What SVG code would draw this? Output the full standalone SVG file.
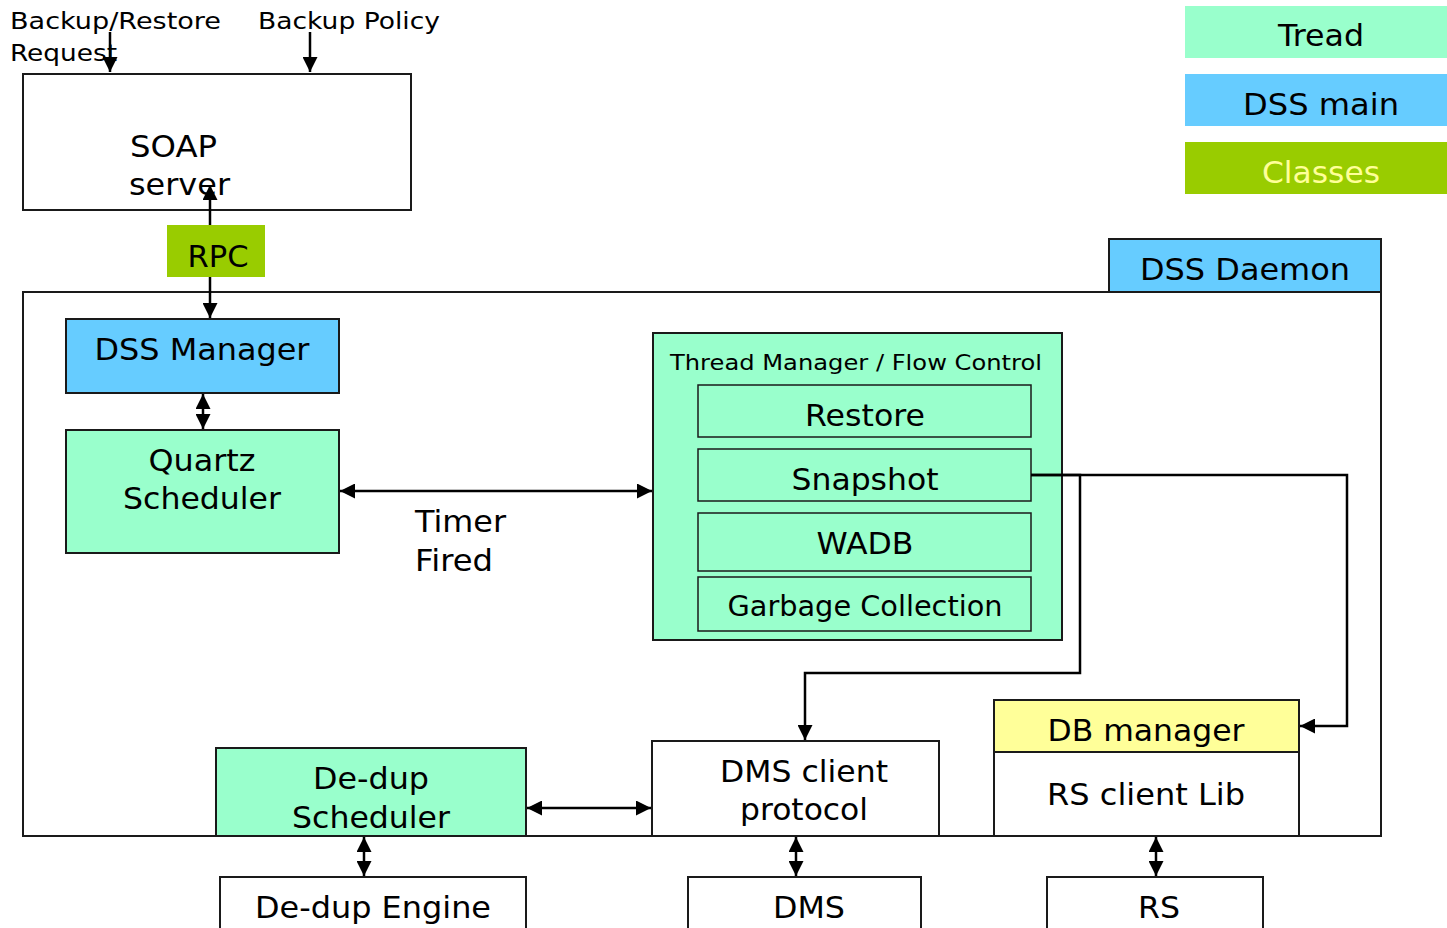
<svg xmlns="http://www.w3.org/2000/svg" width="1447" height="928" viewBox="0 0 1447 928">
  <style>
    text { font-family: "DejaVu Sans", Verdana, sans-serif; fill: #000; }
    .box { stroke: #1a1a1a; stroke-width: 2; }
    .inner { stroke: #1a1a1a; stroke-width: 1.5; }
    .t30 { font-size: 30px; }
    .t23 { font-size: 23px; }
    .t22 { font-size: 22px; }
    .mid { text-anchor: middle; }
    .wire { fill: none; stroke: #000; stroke-width: 2.5; }
  </style>
  <defs>
    <marker id="ah" viewBox="0 0 10 10" refX="10" refY="5" markerWidth="6" markerHeight="6" markerUnits="strokeWidth" orient="auto-start-reverse">
      <path d="M0,0 L10,5 L0,10 z" fill="#000"/>
    </marker>
  </defs>

  <rect width="1447" height="928" fill="#fff"/>

  <!-- legend -->
  <g id="legend-tread">
    <rect x="1185" y="6" width="262" height="52" fill="#99FFCC"/>
    <text class="t30 mid" x="1321" y="46" textLength="86" lengthAdjust="spacingAndGlyphs">Tread</text>
  </g>
  <g id="legend-dss-main">
    <rect x="1185" y="74" width="262" height="52" fill="#66CCFF"/>
    <text class="t30 mid" x="1321" y="115" textLength="156" lengthAdjust="spacingAndGlyphs">DSS main</text>
  </g>
  <g id="legend-classes">
    <rect x="1185" y="142" width="262" height="52" fill="#99CC00"/>
    <text class="t30 mid" x="1321" y="183" textLength="118" lengthAdjust="spacingAndGlyphs" style="fill:#FFFF99">Classes</text>
  </g>

  <!-- inputs -->
  <g id="input-labels">
    <text class="t23" x="10" y="29" textLength="211" lengthAdjust="spacingAndGlyphs">Backup/Restore</text>
    <text class="t23" x="10" y="61" textLength="107" lengthAdjust="spacingAndGlyphs">Request</text>
    <text class="t23" x="258" y="29" textLength="182" lengthAdjust="spacingAndGlyphs">Backup Policy</text>
  </g>

  <g id="soap-server">
    <rect class="box" x="23" y="74" width="388" height="136" fill="#fff"/>
    <text class="t30" x="130" y="157" textLength="87" lengthAdjust="spacingAndGlyphs">SOAP</text>
    <text class="t30" x="129" y="195" textLength="101" lengthAdjust="spacingAndGlyphs">server</text>
  </g>

  <!-- daemon container -->
  <g id="dss-daemon">
    <rect class="box" x="23" y="292" width="1358" height="544" fill="#fff"/>
    <rect class="box" x="1109" y="239" width="272" height="53" fill="#66CCFF"/>
    <text class="t30 mid" x="1245" y="280" textLength="210" lengthAdjust="spacingAndGlyphs">DSS Daemon</text>
  </g>

  <g id="dss-manager">
    <rect class="box" x="66" y="319" width="273" height="74" fill="#66CCFF"/>
    <text class="t30 mid" x="202" y="360" textLength="215" lengthAdjust="spacingAndGlyphs">DSS Manager</text>
  </g>

  <g id="quartz-scheduler">
    <rect class="box" x="66" y="430" width="273" height="123" fill="#99FFCC"/>
    <text class="t30 mid" x="202" y="471" textLength="107" lengthAdjust="spacingAndGlyphs">Quartz</text>
    <text class="t30 mid" x="202" y="509" textLength="158" lengthAdjust="spacingAndGlyphs">Scheduler</text>
  </g>

  <g id="thread-manager">
    <rect class="box" x="653" y="333" width="409" height="307" fill="#99FFCC"/>
    <text class="t22 mid" x="856" y="370" textLength="372" lengthAdjust="spacingAndGlyphs">Thread Manager / Flow Control</text>
    <rect class="inner" x="698" y="385" width="333" height="52" fill="#99FFCC"/>
    <text class="t30 mid" x="865" y="426" textLength="120" lengthAdjust="spacingAndGlyphs">Restore</text>
    <rect class="inner" x="698" y="449" width="333" height="52" fill="#99FFCC"/>
    <text class="t30 mid" x="865" y="490" textLength="147" lengthAdjust="spacingAndGlyphs">Snapshot</text>
    <rect class="inner" x="698" y="513" width="333" height="58" fill="#99FFCC"/>
    <text class="t30 mid" x="865" y="554" textLength="97" lengthAdjust="spacingAndGlyphs">WADB</text>
    <rect class="inner" x="698" y="577" width="333" height="54" fill="#99FFCC"/>
    <text class="t30 mid" x="865" y="616" textLength="275" lengthAdjust="spacingAndGlyphs" style="font-size:28px">Garbage Collection</text>
  </g>

  <g id="timer-label">
    <text class="t30" x="415" y="532" textLength="91" lengthAdjust="spacingAndGlyphs">Timer</text>
    <text class="t30" x="415" y="571" textLength="78" lengthAdjust="spacingAndGlyphs">Fired</text>
  </g>

  <g id="dedup-scheduler">
    <rect class="box" x="216" y="748" width="310" height="88" fill="#99FFCC"/>
    <text class="t30 mid" x="371" y="789" textLength="116" lengthAdjust="spacingAndGlyphs">De-dup</text>
    <text class="t30 mid" x="371" y="828" textLength="158" lengthAdjust="spacingAndGlyphs">Scheduler</text>
  </g>

  <g id="dms-client">
    <rect class="box" x="652" y="741" width="287" height="95" fill="#fff"/>
    <text class="t30 mid" x="804" y="782" textLength="168" lengthAdjust="spacingAndGlyphs">DMS client</text>
    <text class="t30 mid" x="804" y="820" textLength="128" lengthAdjust="spacingAndGlyphs">protocol</text>
  </g>

  <g id="db-manager">
    <rect class="box" x="994" y="700" width="305" height="52" fill="#FFFF99"/>
    <text class="t30 mid" x="1146" y="741" textLength="197" lengthAdjust="spacingAndGlyphs">DB manager</text>
  </g>
  <g id="rs-client-lib">
    <rect class="box" x="994" y="752" width="305" height="84" fill="#fff"/>
    <text class="t30 mid" x="1146" y="805" textLength="198" lengthAdjust="spacingAndGlyphs">RS client Lib</text>
  </g>

  <g id="dedup-engine">
    <rect class="box" x="220" y="877" width="306" height="60" fill="#fff"/>
    <text class="t30 mid" x="373" y="918" textLength="236" lengthAdjust="spacingAndGlyphs">De-dup Engine</text>
  </g>
  <g id="dms">
    <rect class="box" x="688" y="877" width="233" height="60" fill="#fff"/>
    <text class="t30 mid" x="809" y="918" textLength="72" lengthAdjust="spacingAndGlyphs">DMS</text>
  </g>
  <g id="rs">
    <rect class="box" x="1047" y="877" width="216" height="60" fill="#fff"/>
    <text class="t30 mid" x="1159" y="918" textLength="42" lengthAdjust="spacingAndGlyphs">RS</text>
  </g>

  <!-- connectors -->
  <g id="connectors">
    <line class="wire" x1="110" y1="32" x2="110" y2="72" marker-end="url(#ah)"/>
    <line class="wire" x1="310" y1="32" x2="310" y2="72" marker-end="url(#ah)"/>
    <line class="wire" x1="210" y1="185" x2="210" y2="318" marker-start="url(#ah)" marker-end="url(#ah)"/>
    <line class="wire" x1="203" y1="394" x2="203" y2="429" marker-start="url(#ah)" marker-end="url(#ah)"/>
    <line class="wire" x1="340" y1="491" x2="652" y2="491" marker-start="url(#ah)" marker-end="url(#ah)"/>
    <polyline class="wire" points="1031,475 1347,475 1347,726 1300,726" marker-end="url(#ah)"/>
    <polyline class="wire" points="1031,475 1080,475 1080,673 805,673 805,740" marker-end="url(#ah)"/>
    <line class="wire" x1="527" y1="808" x2="651" y2="808" marker-start="url(#ah)" marker-end="url(#ah)"/>
    <line class="wire" x1="364" y1="837" x2="364" y2="876" marker-start="url(#ah)" marker-end="url(#ah)"/>
    <line class="wire" x1="796" y1="837" x2="796" y2="876" marker-start="url(#ah)" marker-end="url(#ah)"/>
    <line class="wire" x1="1156" y1="837" x2="1156" y2="876" marker-start="url(#ah)" marker-end="url(#ah)"/>
  </g>

  <!-- RPC label sits on top of the SOAP link -->
  <g id="rpc">
    <rect x="167" y="225" width="98" height="52" fill="#99CC00"/>
    <text class="t30 mid" x="218" y="267" textLength="61" lengthAdjust="spacingAndGlyphs">RPC</text>
  </g>
</svg>
